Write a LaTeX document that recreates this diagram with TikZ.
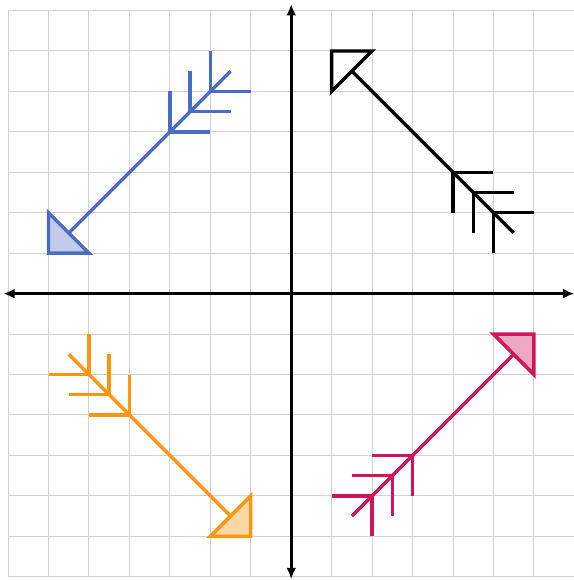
\documentclass[tikz,border=0pt]{standalone}
\usetikzlibrary{arrows.meta}
\definecolor{arrblue}{HTML}{4A6CC3}
\definecolor{arrbluefill}{HTML}{C2CBE9}
\definecolor{arrorange}{HTML}{FF9510}
\definecolor{arrorangefill}{HTML}{FDD7A3}
\definecolor{arrpink}{HTML}{D0155A}
\definecolor{arrpinkfill}{HTML}{EEAAC3}
\begin{document}
\begin{tikzpicture}[x=1cm,y=1cm,
  gridline/.style={gray!35, line width=0.7pt},
  axis/.style={line width=2pt, {Latex[length=8pt,width=7pt]}-{Latex[length=8pt,width=7pt]}},
  vane/.style={#1, line width=2.4pt}]
\useasboundingbox (-7.2,-7.08) rectangle (6.97,7.26);
\draw[gridline] (-7,-7) grid (7,7);
\draw[axis] (-7.12,0) -- (7,0);
\draw[axis] (0,-7.06) -- (0,7.16);

\draw[vane=arrblue] (-5.5,1.5) -- (-1.5,5.5);
\filldraw[vane=arrblue, fill=arrbluefill] (-6,2) -- (-6,1) -- (-5,1) -- cycle;
\foreach \t in {0,0.5,1}
  \draw[vane=arrblue] (-2-\t,6-\t) -- (-2-\t,5-\t) -- (-1-\t,5-\t);

\draw[vane=black] (1.5,5.5) -- (5.5,1.5);
\filldraw[vane=black, fill=white] (1,6) -- (2,6) -- (1,5) -- cycle;
\foreach \t in {0,0.5,1}
  \draw[vane=black] (5-\t,1+\t) -- (5-\t,2+\t) -- (6-\t,2+\t);

\draw[vane=arrorange] (-1.5,-5.5) -- (-5.5,-1.5);
\filldraw[vane=arrorange, fill=arrorangefill] (-2,-6) -- (-1,-6) -- (-1,-5) -- cycle;
\foreach \t in {0,0.5,1}
  \draw[vane=arrorange] (-5+\t,-1-\t) -- (-5+\t,-2-\t) -- (-6+\t,-2-\t);

\draw[vane=arrpink] (5.5,-1.5) -- (1.5,-5.5);
\filldraw[vane=arrpink, fill=arrpinkfill] (5,-1) -- (6,-1) -- (6,-2) -- cycle;
\foreach \t in {0,0.5,1}
  \draw[vane=arrpink] (2+\t,-6+\t) -- (2+\t,-5+\t) -- (1+\t,-5+\t);
\end{tikzpicture}
\end{document}
